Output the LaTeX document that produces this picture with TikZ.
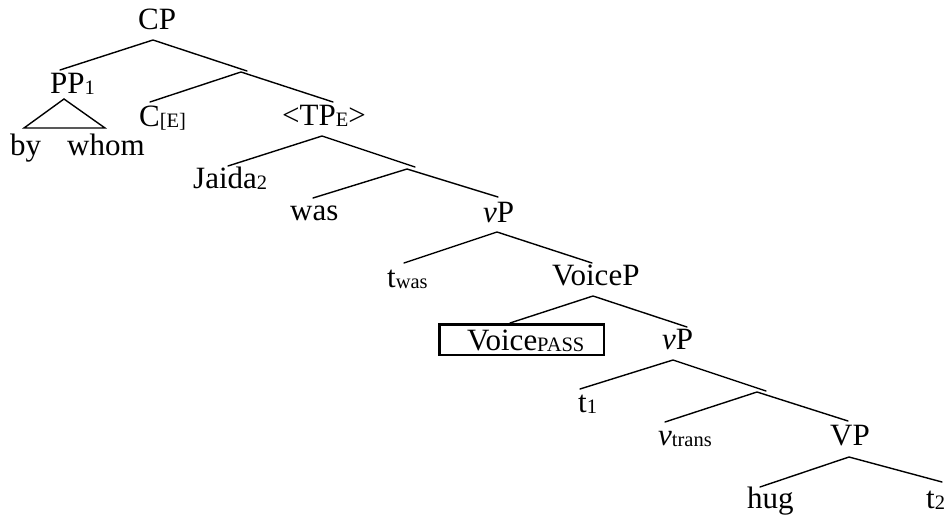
\documentclass[tikz,border=0pt]{standalone}
\usepackage{fontspec}
\setmainfont{Liberation Serif}
\newcommand\lowsub[1]{\raisebox{-1.5pt}{\fontsize{20.5}{21}\selectfont #1}}
\begin{document}
\begin{tikzpicture}[x=1pt,y=-1pt,
  lbl/.style={inner sep=0pt, anchor=base west, font=\fontsize{31}{37}\selectfont},
  br/.style={line width=1.4pt, line cap=round}]
\useasboundingbox (0,0) rectangle (951,519);
% labels
\node[lbl] (cp) at (138,30) {CP};
\node[lbl] (pp) at (50,93) {PP\lowsub{1}};
\node[lbl] (by) at (10,155) {by};
\node[lbl] (whom) at (67,155) {whom};
\node[lbl] (c) at (139,126) {C\lowsub{[E]}};
\node[lbl] (tp) at (282,125) {<TP\lowsub{E}>};
\node[lbl] (jaida) at (193,188) {Jaida\lowsub{2}};
\node[lbl] (was) at (290,220) {was};
\node[lbl] (vp1) at (483,222) {\textit{v}P};
\node[lbl] (twas) at (387,287) {t\lowsub{was}};
\node[lbl] (voicep) at (552,285) {VoiceP};
\node[lbl] (voicepass) at (467,350) {Voice\lowsub{PASS}};
\node[draw, line width=2.5pt, minimum width=164.5pt, minimum height=30.5pt, inner sep=0pt] (box) at (521.5,339.5) {};
\node[lbl] (vp2) at (662,349) {\textit{v}P};
\node[lbl] (t1) at (578,412) {t\lowsub{1}};
\node[lbl] (vtrans) at (658,445) {\textit{v}\lowsub{trans}};
\node[lbl] (VP) at (830,445) {VP};
\node[lbl] (hug) at (747,508) {hug};
\node[lbl] (t2) at (926,508) {t\lowsub{2}};
% branch points
\coordinate (cpA) at (153,40);
\coordinate (ppT) at (60,70);
\coordinate (cbarO) at (247,71);
\coordinate (cbar) at (241,72);
\coordinate (cT) at (150,102);
\coordinate (tpT) at (333,102);
\coordinate (ppA) at (64,99);
\coordinate (trL) at (24,128);
\coordinate (trR) at (105,128);
\coordinate (tpA) at (322,136);
\coordinate (jT) at (228,166);
\coordinate (tbarO) at (415,167);
\coordinate (tbar) at (407,169);
\coordinate (wasT) at (313,198);
\coordinate (vp1T) at (498,197);
\coordinate (vp1A) at (497,232);
\coordinate (twasT) at (404,263);
\coordinate (voicepT) at (592,263);
\coordinate (voicepA) at (593,296);
\coordinate (boxT) at (510,323);
\coordinate (vp2T) at (687,327);
\coordinate (vp2A) at (673,360);
\coordinate (t1T) at (580,389);
\coordinate (vbarO) at (766,391);
\coordinate (vbar) at (757,392);
\coordinate (vtT) at (665,422);
\coordinate (VPT) at (848,421);
\coordinate (VPA) at (849,457);
\coordinate (hugT) at (760,487);
\coordinate (t2T) at (942,482);
% branches
\draw[br] (ppT) -- (cpA) -- (cbarO);
\draw[br] (cT) -- (cbar) -- (tpT);
\draw[br] (trL) -- (ppA) -- (trR) -- cycle;
\draw[br] (jT) -- (tpA) -- (tbarO);
\draw[br] (wasT) -- (tbar) -- (vp1T);
\draw[br] (twasT) -- (vp1A) -- (voicepT);
\draw[br] (boxT) -- (voicepA) -- (vp2T);
\draw[br] (t1T) -- (vp2A) -- (vbarO);
\draw[br] (vtT) -- (vbar) -- (VPT);
\draw[br] (hugT) -- (VPA) -- (t2T);
\end{tikzpicture}
\end{document}
